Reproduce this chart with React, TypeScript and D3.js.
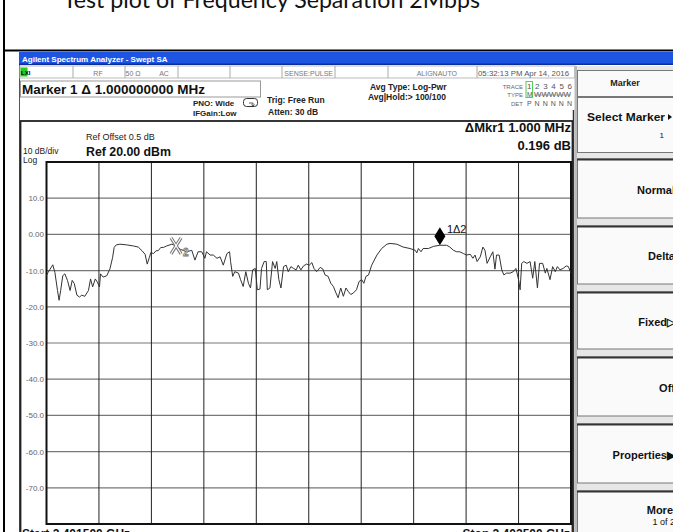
import React from "react";
import * as d3 from "d3";

const freqKHz = [0,3,12,16,21,24,27,31,35,40,45,49,53,58,63,67,73,80,84,88,93,97,101,103,108,115,121,126,129,133,140,153,166,175,182,188,192,196,199,204,209,213,218,223,229,239,248,255,
267,277,283,289,296,302,305,312,318,325,331,337,344,349,351,355,359,366,370,375,380,385,389,393,398,402,407,410,415,419,421,426,431,436,439,443,447,452,457,461,466,471,476,480,485,490,496,501,506,510,515,522,527,531,537,542,547,552,556,561,566,571,575,580,585,591,596,601,605,609,614,620,630,639,649,655,668,680,693,703,706,709,714,718,728,738,750,763,769,776,782,788,795,801,808,813,817,821,827,832,836,840,846,851,855,858,863,868,872,877,884,890,895,900,903,906,910,916,922,927,931,936,940,946,951,954,960,965,970,974,979,985,991,995,1000];

const levelDbm = [-11.4,-10.5,-8.4,-10.5,-15.5,-18.2,-15.5,-11.4,-10.9,-12.7,-15.5,-12.7,-13.6,-16.8,-17.3,-16.8,-17.1,-15.5,-12.3,-14.5,-12.3,-13.2,-14.5,-10.9,-11.8,-11.4,-9.5,-6.4,-3.6,-2.9,-2.7,-2.9,-3.2,-3.5,-4.5,-5.5,-8.2,-6.4,-5.0,-5.3,-4.5,-4.5,-3.6,-3.6,-3.2,-2.7,-3.2,-4.1,
-4.8,-4.4,-7.1,-4.8,-4.8,-6.6,-4.8,-5.7,-5.7,-6.6,-6.2,-8.5,-5.3,-4.8,-7.5,-11.6,-10.3,-10.7,-12.5,-14.4,-10.3,-13.5,-14.8,-9.8,-9.4,-15.3,-15.1,-9.4,-7.5,-7.5,-15.3,-14.8,-7.5,-9.4,-7.5,-12.5,-14.8,-8.9,-8.5,-10.3,-8.9,-9.4,-9.8,-8.5,-9.8,-8.7,-8.2,-8.5,-7.8,-9.4,-10.3,-9.1,-9.6,-11.2,-11.6,-13.5,-14.4,-16.2,-17.5,-14.8,-17.1,-14.8,-15.7,-16.6,-16.2,-15.3,-13.0,-12.5,-13.5,-11.6,-11.2,-8.5,-5.7,-3.9,-2.7,-2.5,-2.7,-3.5,-3.9,-4.4,-5.1,-3.9,-4.8,-3.9,-3.9,-3.3,-3.0,-3.0,-3.5,-4.4,-4.8,-4.8,-5.3,-5.7,-5.5,-6.6,-5.7,-7.5,-6.2,-3.5,-4.4,-8.0,-6.2,-4.8,-9.6,-5.7,-5.7,-9.8,-11.2,-10.7,-10.7,-10.3,-9.4,-12.5,-15.3,-8.0,-7.5,-8.0,-7.5,-12.1,-7.5,-14.8,-8.0,-8.0,-10.7,-9.4,-12.5,-8.9,-10.3,-8.9,-9.8,-9.4,-8.7,-8.9,-10.7];

const yTickValues = [10, 0, -10, -20, -30, -40, -50, -60, -70];
const yTickLabels = ["10.0", "0.00", "-10.0", "-20.0", "-30.0", "-40.0", "-50.0", "-60.0", "-70.0"];
const xGridKHz = [100, 200, 300, 400, 500, 600, 700, 800, 900];
const marker1KHz = 750;
const marker2KHz = 247;

const softkeys = [
  { label: "Normal", y0: 159, y1: 218 },
  { label: "Delta", y0: 226, y1: 284 },
  { label: "Fixed\u25B7", y0: 292, y1: 349 },
  { label: "Off", y0: 357, y1: 416 },
  { label: "Properties\u25B6", y0: 424, y1: 483 },
];

const statusSeps = [73, 125, 178, 230, 282, 335, 388, 477, 575];

const F = "'Liberation Sans', Arial, sans-serif";

export default function App() {
  const x = d3.scaleLinear().domain([0, 1000]).range([46.5, 571]);
  const y = d3.scaleLinear().domain([-80, 20]).range([524, 162]);
  const pts = freqKHz.map((f, i) => [f, levelDbm[i]] as [number, number]);
  const line = d3.line<[number, number]>().x((d) => x(d[0])).y((d) => y(d[1]));
  const lvl = (k: number) => {
    const i = d3.bisector((d: number) => d).left(freqKHz, k);
    const a = Math.max(0, i - 1), b = Math.min(freqKHz.length - 1, i);
    if (a === b) return levelDbm[a];
    const t = (k - freqKHz[a]) / (freqKHz[b] - freqKHz[a]);
    return levelDbm[a] + t * (levelDbm[b] - levelDbm[a]);
  };
  const m1x = x(marker1KHz), m1y = y(lvl(marker1KHz));
  const m2x = x(marker2KHz), m2y = y(lvl(marker2KHz));

  return (
    <svg width={673} height={532} style={{ position: "absolute", left: 0, top: 0, background: "#fff" }} fontFamily={F}>
      {/* document frame */}
      <text x={271.5} y={8} textAnchor="middle" fontFamily="Lato, 'Open Sans', sans-serif" fontSize={24} fill="#111" textLength={417} lengthAdjust="spacingAndGlyphs">Test plot of Frequency Separation 2Mbps</text>
      <line x1={4} y1={0} x2={4} y2={532} stroke="#000" strokeWidth={2} />
      <line x1={3} y1={50.5} x2={673} y2={50.5} stroke="#000" strokeWidth={2} />

      {/* title bar */}
      <rect x={19} y={52} width={654} height={13} fill="#1d55e2" />
      <rect x={19} y={63.5} width={654} height={1.5} fill="#0b2f9a" />
      <text x={22} y={61.5} fontSize={8} fontWeight="bold" fill="#fff">Agilent Spectrum Analyzer - Swept SA</text>

      {/* instrument background */}
      <rect x={19} y={65} width={654} height={467} fill="#fff" />
      <line x1={19.5} y1={65} x2={19.5} y2={532} stroke="#555" />

      {/* status row */}
      <rect x={20} y={66} width={555} height={12} fill="#fff" stroke="#bbb" />
      {statusSeps.map((s) => (
        <line key={s} x1={s} y1={66} x2={s} y2={78} stroke="#aaa" />
      ))}
      <rect x={20.5} y={67.5} width={7} height={9} fill="#22cc22" />
      <text x={21} y={75} fontSize={6} fontWeight="bold" fill="#000">LXI</text>
      <text x={98} y={75.5} fontSize={7} fill="#777" textAnchor="middle">RF</text>
      <text x={133} y={75.5} fontSize={7} fill="#777" textAnchor="middle">50 Ω</text>
      <text x={164} y={75.5} fontSize={7} fill="#777" textAnchor="middle">AC</text>
      <text x={333} y={75.5} fontSize={7} fill="#777" textAnchor="end">SENSE:PULSE</text>
      <text x={457} y={75.5} fontSize={7} fill="#777" textAnchor="end">ALIGNAUTO</text>
      <text x={478} y={75.5} fontSize={7} fill="#555" textLength={91} lengthAdjust="spacingAndGlyphs">05:32:13 PM Apr 14, 2016</text>

      {/* marker readout row */}
      <rect x={20.5} y={81} width={240} height={16} fill="#fff" stroke="#999" />
      <text x={22} y={93.5} fontSize={13.5} fontWeight="bold" fill="#111" textLength={183} lengthAdjust="spacingAndGlyphs">Marker 1 Δ 1.000000000 MHz</text>
      <text x={193} y={106} fontSize={8} fontWeight="bold" fill="#222">PNO: Wide</text>
      <text x={193} y={116} fontSize={8} fontWeight="bold" fill="#222">IFGain:Low</text>
      <rect x={243.5} y={98.5} width={14} height={8} rx={3} fill="#fff" stroke="#333" />
      <path d="M249 103 L253 103 L253 106 M251.5 104.5 L253 106.5 L254.5 104.5" fill="none" stroke="#333" strokeWidth={0.8} />
      <text x={267} y={103} fontSize={8.5} fontWeight="bold" fill="#222">Trig: Free Run</text>
      <text x={268} y={115} fontSize={8.5} fontWeight="bold" fill="#222">Atten: 30 dB</text>
      <text x={370} y={90} fontSize={8.5} fontWeight="bold" fill="#222">Avg Type: Log-Pwr</text>
      <text x={368} y={100} fontSize={8.5} fontWeight="bold" fill="#222">Avg|Hold:&gt; 100/100</text>
      <text x={523} y={88.5} fontSize={6} fill="#666" textAnchor="end">TRACE</text>
      <text x={523} y={97} fontSize={6} fill="#666" textAnchor="end">TYPE</text>
      <text x={523} y={105.5} fontSize={6} fill="#666" textAnchor="end">DET</text>
      <rect x={526} y={81.5} width={6.5} height={16} fill="none" stroke="#55cc55" />
      <text x={527} y={89} fontSize={8} fill="#555" textLength={45} lengthAdjust="spacing">1 2 3 4 5 6</text>
      <text x={527} y={97} fontSize={6.5} fill="#555">M</text>
      <text x={534} y={97} fontSize={6.5} fill="#555" textLength={37} lengthAdjust="spacingAndGlyphs">WWWWW</text>
      <line x1={534} y1={95} x2={571} y2={95} stroke="#777" strokeWidth={0.6} />
      <text x={527} y={105.5} fontSize={7} fill="#555" textLength={45} lengthAdjust="spacing">P N N N N N</text>

      {/* display box */}
      <rect x={20.5} y={121} width={552} height={420} fill="#fff" stroke="#222" strokeWidth={1.8} />
      <line x1={573.5} y1={110} x2={573.5} y2={532} stroke="#333" strokeWidth={1.5} />
      <rect x={574.5} y={66} width={2.5} height={466} fill="#bbb" />

      <text x={86} y={140} fontSize={9} fill="#222">Ref Offset 0.5 dB</text>
      <text x={86} y={156} fontSize={12} fontWeight="bold" fill="#111" textLength={85} lengthAdjust="spacingAndGlyphs">Ref 20.00 dBm</text>
      <text x={23} y={154} fontSize={8.5} fill="#222">10 dB/div</text>
      <text x={23} y={162.5} fontSize={8.5} fill="#222">Log</text>
      <text x={571} y={131.5} fontSize={13} fontWeight="bold" fill="#111" textAnchor="end">ΔMkr1 1.000 MHz</text>
      <text x={571} y={149.5} fontSize={13} fontWeight="bold" fill="#111" textAnchor="end">0.196 dB</text>

      {/* graticule */}
      {yTickValues.map((v, i) => (
        <g key={v}>
          <line x1={x(0)} x2={x(1000)} y1={y(v)} y2={y(v)} stroke="#777" strokeWidth={1.2} />
          <text x={44} y={y(v) + 3} fontSize={8} fill="#666" textAnchor="end">{yTickLabels[i]}</text>
        </g>
      ))}
      {xGridKHz.map((f) => (
        <line key={f} x1={x(f)} x2={x(f)} y1={y(20)} y2={y(-80)} stroke="#222" strokeWidth={1} />
      ))}
      <rect x={x(0)} y={y(20)} width={x(1000) - x(0)} height={y(-80) - y(20)} fill="none" stroke="#111" strokeWidth={2} />

      {/* trace */}
      <path d={line(pts) || ""} fill="none" stroke="#333" strokeWidth={1} strokeLinejoin="round" />

      {/* marker 2 (reference) */}
      <g stroke="#777" strokeWidth={3.2} fill="none">
        <line x1={m2x - 5} y1={m2y - 8} x2={m2x + 5} y2={m2y + 8} />
        <line x1={m2x + 5} y1={m2y - 8} x2={m2x - 5} y2={m2y + 8} />
      </g>
      <g stroke="#fff" strokeWidth={1.2} fill="none">
        <line x1={m2x - 5} y1={m2y - 8} x2={m2x + 5} y2={m2y + 8} />
        <line x1={m2x + 5} y1={m2y - 8} x2={m2x - 5} y2={m2y + 8} />
      </g>
      <text x={m2x + 7} y={m2y + 10} fontSize={10} fontWeight="bold" fill="#fff" stroke="#777" strokeWidth={0.8}>2</text>

      {/* marker 1 */}
      <path d={`M${m1x} ${m1y} L${m1x - 5.5} ${m1y - 9} L${m1x} ${m1y - 18} L${m1x + 5.5} ${m1y - 9} Z`} fill="#000" />
      <text x={m1x + 7} y={m1y - 12} fontSize={11} fill="#111">1Δ2</text>

      {/* start/stop */}
      <text x={22} y={538} fontSize={12} fontWeight="bold" fill="#111">Start 2.401500 GHz</text>
      <text x={570} y={538} fontSize={12} fontWeight="bold" fill="#111" textAnchor="end">Stop 2.402500 GHz</text>

      {/* right softkey panel */}
      <rect x={577} y={66} width={100} height={466} fill="#e6e6e6" />
      <rect x={577.5} y={70.5} width={100} height={26} fill="#fafafa" stroke="#777" />
      <text x={625} y={86} fontSize={9} fontWeight="bold" fill="#222" textAnchor="middle">Marker</text>
      <rect x={577.5} y={97.5} width={100} height={55} fill="#fafafa" stroke="#777" />
      <text x={587} y={121} fontSize={11} fontWeight="bold" fill="#111" textLength={78} lengthAdjust="spacingAndGlyphs">Select Marker</text>
      <path d="M668 114 L672 117 L668 120 Z" fill="#111" />
      <text x={664} y={138} fontSize={8} fill="#111" textAnchor="end">1</text>
      {softkeys.map((k) => (
        <g key={k.label}>
          <rect x={577.5} y={k.y0} width={100} height={k.y1 - k.y0} fill="#fafafa" stroke="#777" />
          <line x1={577} x2={677} y1={k.y0 + 0.5} y2={k.y0 + 0.5} stroke="#333" strokeWidth={2} />
          <text x={675} y={(k.y0 + k.y1) / 2 + 5} fontSize={11} fontWeight="bold" fill="#111" textAnchor="end">{k.label}</text>
        </g>
      ))}
      <rect x={577.5} y={491} width={100} height={60} fill="#fafafa" stroke="#777" />
      <line x1={577} x2={677} y1={491.5} y2={491.5} stroke="#333" strokeWidth={2} />
      <text x={673} y={514} fontSize={11} fontWeight="bold" fill="#111" textAnchor="end">More</text>
      <text x={675} y={525} fontSize={9} fill="#111" textAnchor="end">1 of 2</text>
    </svg>
  );
}
